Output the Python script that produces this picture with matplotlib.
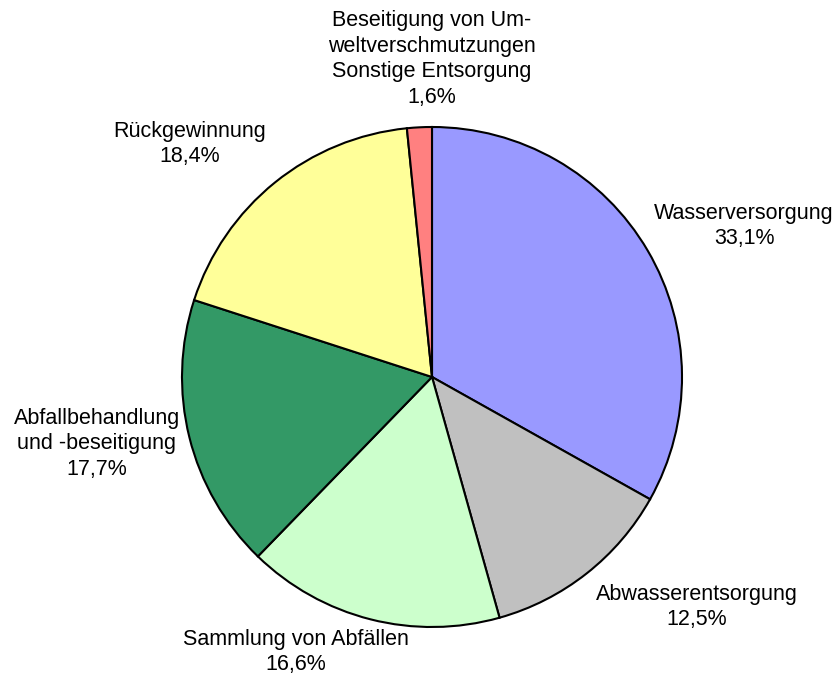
import matplotlib
matplotlib.use("Agg")
import matplotlib.pyplot as plt

# shares in percent, clockwise from 12 o'clock
labels = [
    "Wasserversorgung",
    "Abwasserentsorgung",
    "Sammlung von Abfällen",
    "Abfallbehandlung\nund -beseitigung",
    "Rückgewinnung",
    "Beseitigung von Um-\nweltverschmutzungen\nSonstige Entsorgung",
]
values = [33.1, 12.5, 16.6, 17.7, 18.4, 1.6]
colors = ["#9999FF", "#C0C0C0", "#CCFFCC", "#339966", "#FFFF99", "#FF8080"]

# label anchor points in pixel space (x, y from top)
label_pos = [(744, 226), (697, 607), (296, 652), (97, 444), (190, 144), (432, 59)]

W, H = 837, 682
fig = plt.figure(figsize=(W / 100, H / 100), dpi=100)
ax = fig.add_axes([0, 0, 1, 1])

ax.pie(values, colors=colors, startangle=90, counterclock=False,
       center=(432, H - 377), radius=250, frame=True,
       wedgeprops=dict(edgecolor="black", linewidth=1.5))
ax.set_xlim(0, W)
ax.set_ylim(0, H)
ax.set_aspect("equal")
ax.axis("off")

for lab, v, (x, y) in zip(labels, values, label_pos):
    txt = lab + "\n" + f"{v:.1f}".replace(".", ",") + "%"
    ax.text(x, H - y, txt, ha="center", va="center", fontsize=15.5,
            family="Liberation Sans", linespacing=1.3)

fig.savefig("out.png", dpi=100)
